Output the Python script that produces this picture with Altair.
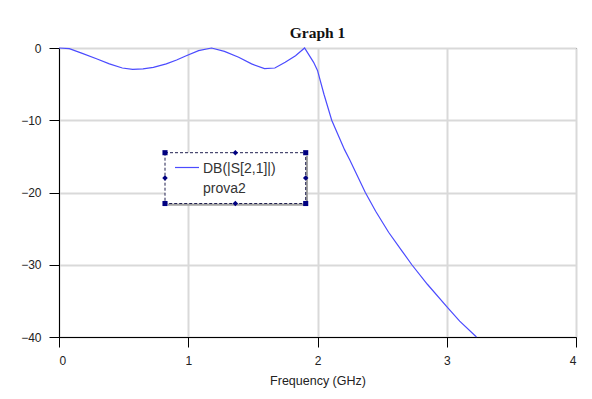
import altair as alt
import pandas as pd

# S21 magnitude of the filter, dB vs frequency in GHz
freq_ghz = [0.00, 0.08, 0.18, 0.29, 0.39, 0.49, 0.57, 0.65, 0.73, 0.83,
            0.91, 0.98, 1.08, 1.18, 1.28, 1.39, 1.49, 1.59, 1.67, 1.75,
            1.83, 1.90, 1.97, 2.00, 2.05, 2.11, 2.21, 2.25, 2.37, 2.45,
            2.55, 2.65, 2.73, 2.85, 3.00, 3.10, 3.23]
s21_db = [0.0, -0.09, -0.74, -1.48, -2.20, -2.77, -2.95, -2.90, -2.67, -2.20,
          -1.66, -1.10, -0.37, 0.0, -0.46, -1.29, -2.20, -2.86, -2.77, -1.98,
          -1.06, 0.0, -1.98, -3.10, -6.40, -10.0, -14.1, -15.5, -20.0, -22.6,
          -25.5, -28.0, -30.0, -32.7, -35.8, -37.8, -40.0]

x_ticks = [0, 1, 2, 3, 4]
y_ticks = [-40, -30, -20, -10, 0]

legend_lines = ["DB(|S[2,1]|)", "prova2"]

LINE_COLOR = "#4b4bff"
FONT = "Liberation Sans"

W, H = 517, 289

df = pd.DataFrame({"freq": freq_ghz, "db": s21_db})

curve = alt.Chart(df).mark_line(color=LINE_COLOR, strokeWidth=1.2).encode(
    x=alt.X("freq:Q", title="Frequency (GHz)",
            scale=alt.Scale(domain=[0, 4], nice=False),
            axis=alt.Axis(values=x_ticks, format="d")),
    y=alt.Y("db:Q", title=None,
            scale=alt.Scale(domain=[-40, 0], nice=False),
            axis=alt.Axis(values=y_ticks, format="d")),
)

# legend box (selected state: dashed frame, shadow and grab handles), pixel placement
bx0, bx1, by0, by1 = 106, 246.7, 104.7, 155.5
one = pd.DataFrame({"k": [0]})

shadow_r = alt.Chart(one).mark_rule(color="#a0a0a0", strokeWidth=2.5).encode(
    x=alt.value(bx1 + 1), y=alt.value(by0 + 3), y2=alt.value(by1 + 2))
shadow_b = alt.Chart(one).mark_rule(color="#a0a0a0", strokeWidth=2.5).encode(
    y=alt.value(by1 + 1), x=alt.value(bx0 + 3), x2=alt.value(bx1 + 2))

frame = alt.Chart(one).mark_rect(fill="white", stroke="#202050", strokeWidth=1,
                                 strokeDash=[3, 2]).encode(
    x=alt.value(bx0), x2=alt.value(bx1), y=alt.value(by0), y2=alt.value(by1))

mx, my = (bx0 + bx1) / 2, (by0 + by1) / 2
corners = pd.DataFrame({"px": [bx0, bx1, bx0, bx1], "py": [by0, by0, by1, by1]})
mids = pd.DataFrame({"px": [mx, mx, bx0, bx1], "py": [by0, by1, my, my]})

corner_marks = alt.Chart(corners).mark_point(shape="square", filled=True, size=26,
                                             color="#000080", opacity=1).encode(
    x=alt.X("px:Q", scale=None), y=alt.Y("py:Q", scale=None))
mid_marks = alt.Chart(mids).mark_point(shape="diamond", filled=True, size=30,
                                       color="#000080", opacity=1).encode(
    x=alt.X("px:Q", scale=None), y=alt.Y("py:Q", scale=None))

sample = alt.Chart(one).mark_rule(color=LINE_COLOR, strokeWidth=1.2).encode(
    x=alt.value(116), x2=alt.value(140), y=alt.value(119.5))

legend_df = pd.DataFrame({"txt": legend_lines, "py": [125, 145]})
legend_text = alt.Chart(legend_df).mark_text(
    align="left", baseline="alphabetic", font=FONT, fontSize=14, color="#333333"
).encode(x=alt.value(144), y=alt.Y("py:Q", scale=None), text="txt:N")

chart = alt.layer(
    curve, shadow_r, shadow_b, frame, corner_marks, mid_marks, sample, legend_text
).properties(
    width=W, height=H,
    title=alt.TitleParams("Graph 1", font="Liberation Serif", fontSize=15.5,
                          fontWeight="bold", color="#111111", anchor="middle",
                          offset=1),
    autosize=alt.AutoSizeParams(type="none"),
    padding={"left": 59, "top": 48, "right": 16, "bottom": 62},
    background="white",
).configure_view(
    stroke="black", strokeWidth=1
).configure_axis(
    domainColor="black", tickColor="black", tickSize=10,
    gridColor="#d9d9d9", gridWidth=2,
    labelFont=FONT, labelFontSize=12, labelColor="#222222",
    titleFont=FONT, titleFontSize=12.5, titleColor="#222222", titleFontWeight="normal",
).configure_axisX(
    labelPadding=8, titlePadding=8
).configure_axisY(
    labelPadding=8
)

chart.save("out.html", embed_options={"renderer": "svg", "actions": False})
